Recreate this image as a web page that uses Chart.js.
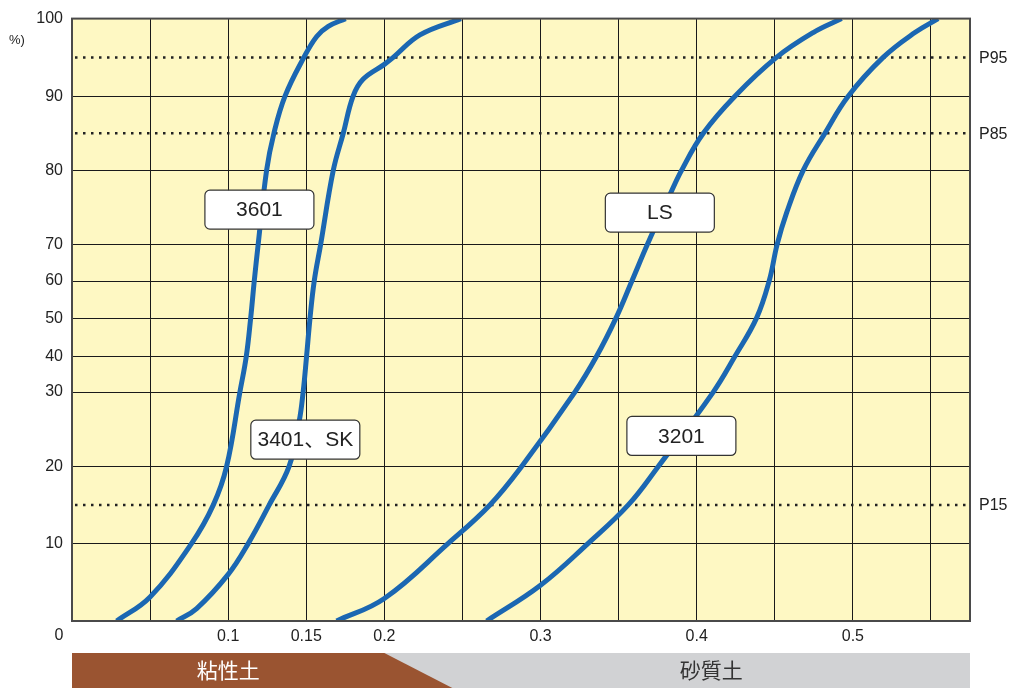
<!DOCTYPE html>
<html>
<head>
<meta charset="utf-8">
<script src="https://cdn.jsdelivr.net/npm/chart.js@4.4.1/dist/chart.umd.min.js"></script>
<style>
  html, body { margin: 0; padding: 0; background: #fff; }
  #wrap { position: relative; width: 1013px; height: 688px; }
</style>
</head>
<body>
<div id="wrap"><canvas id="chart" width="1013" height="688"></canvas></div>
<script>
// --- curve data (particle size vs. passing %) ---
const x3601 = [0.0286, 0.05, 0.0766, 0.0905, 0.099, 0.1075, 0.1116, 0.1144, 0.1167, 0.1192, 0.1246, 0.1293, 0.1364, 0.1485, 0.1567, 0.1641, 0.1752];
const p3601 = [0, 3.1, 10, 15, 20, 30, 40, 50, 60, 70, 80, 85, 90, 95, 97.7, 99, 100];

const x3401 = [0.067, 0.0798, 0.1, 0.1129, 0.1263, 0.139, 0.1455, 0.148, 0.1502, 0.1524, 0.1551, 0.1592, 0.1673, 0.1737, 0.18, 0.1865, 0.2, 0.2057, 0.2228, 0.249];
const p3401 = [0, 1.6, 6, 10, 15, 20, 26.1, 30, 40, 50, 60, 70, 80, 85, 90, 92.2, 94.1, 95, 97.9, 100];

const xLS = [0.1694, 0.2, 0.2409, 0.2676, 0.2879, 0.322, 0.3359, 0.3483, 0.3585, 0.3684, 0.3824, 0.3903, 0.4042, 0.4245, 0.4511, 0.4746, 0.4928];
const pLS = [0, 2.9, 10, 15, 20, 30, 40, 50, 60, 70, 76.5, 80, 85, 90, 95, 98.2, 100];

const x3201 = [0.2655, 0.3, 0.3305, 0.3562, 0.3754, 0.4106, 0.4245, 0.4383, 0.4464, 0.4515, 0.4576, 0.4682, 0.4821, 0.497, 0.5194, 0.5397, 0.5546];
const p3201 = [0, 4.6, 10, 15, 20, 30, 40, 50, 60, 70, 74.3, 80, 85, 90, 95, 98.2, 100];

const curveNames = ['3601', '3401、SK', 'LS', '3201'];
const labelX = [0.12, 0.1494, 0.3764, 0.3902];
const labelPct = [74.7, 23.6, 74.3, 24.1];

// y axis is not linear in %: tick values and where they sit on a 0..16 axis
const pctTicks = [0, 10, 20, 30, 40, 50, 60, 70, 80, 90, 100];
const pctSteps = [0, 2.062, 4.105, 6.08, 7.03, 8.044, 9.03, 10, 11.97, 13.94, 16];

const xTicks = [0, 0.05, 0.1, 0.15, 0.2, 0.25, 0.3, 0.35, 0.4, 0.45, 0.5, 0.55];
const xTickLabels = ['', '', '0.1', '0.15', '0.2', '', '0.3', '', '0.4', '', '0.5', ''];

const pLines = [95, 85, 15];
const pLineLabels = ['P95', 'P85', 'P15'];

const soilNames = ['粘性土', '砂質土'];
const soilSplit = 0.2;

const FONT = "'Liberation Sans', Arial, 'Noto Sans CJK JP', sans-serif";
const BLUE = '#1b67b2';

function toPos(pct) {
  for (let i = 0; i < pctTicks.length - 1; i++) {
    if (pct <= pctTicks[i + 1]) {
      const t = (pct - pctTicks[i]) / (pctTicks[i + 1] - pctTicks[i]);
      return pctSteps[i] + t * (pctSteps[i + 1] - pctSteps[i]);
    }
  }
  return pctSteps[pctSteps.length - 1];
}

function series(xs, ps) {
  return xs.map((x, i) => ({ x: x, y: toPos(ps[i]) }));
}

const decor = {
  id: 'decor',
  beforeDraw(chart) {
    const { ctx, chartArea: a } = chart;
    ctx.save();
    ctx.fillStyle = '#fef8c3';
    ctx.fillRect(a.left, a.top, a.right - a.left, a.bottom - a.top);
    ctx.restore();
  },
  beforeDatasetsDraw(chart) {
    const { ctx, chartArea: a, scales } = chart;
    ctx.save();
    ctx.strokeStyle = '#222';
    ctx.lineWidth = 2.5;
    ctx.setLineDash([2.5, 5.5]);
    pLines.forEach(p => {
      const y = scales.y.getPixelForValue(toPos(p));
      ctx.beginPath(); ctx.moveTo(a.left + 3, y); ctx.lineTo(a.right, y); ctx.stroke();
    });
    ctx.restore();
  },
  afterDatasetsDraw(chart) {
    const { ctx, chartArea: a, scales } = chart;
    ctx.save();
    // frame
    ctx.strokeStyle = '#4a4a4a';
    ctx.lineWidth = 2;
    ctx.strokeRect(a.left, a.top, a.right - a.left, a.bottom - a.top);

    // curve name boxes
    ctx.font = '21px ' + FONT;
    ctx.textAlign = 'center';
    ctx.textBaseline = 'middle';
    curveNames.forEach((name, i) => {
      const cx = scales.x.getPixelForValue(labelX[i]);
      const cy = scales.y.getPixelForValue(toPos(labelPct[i]));
      ctx.beginPath();
      ctx.roundRect(cx - 54.5, cy - 19.5, 109, 39, 5);
      ctx.fillStyle = '#fff'; ctx.fill();
      ctx.lineWidth = 1.2; ctx.strokeStyle = '#333'; ctx.stroke();
      ctx.fillStyle = '#222';
      ctx.fillText(name, cx, cy + 1);
    });

    // P labels on the right
    ctx.font = "16px 'Liberation Sans Narrow', 'Liberation Sans', Arial, sans-serif";
    ctx.textAlign = 'left';
    ctx.fillStyle = '#222';
    pLines.forEach((p, i) => {
      ctx.fillText(pLineLabels[i], a.right + 9, scales.y.getPixelForValue(toPos(p)) + 1);
    });

    // unit and origin
    ctx.font = '13px ' + FONT;
    ctx.fillText('%)', 9, 40);
    ctx.font = '16px ' + FONT;
    ctx.textAlign = 'center';
    ctx.fillText('0', a.left - 13, a.bottom + 15);

    // soil type band
    const top = 653, bot = chart.height;
    const xs = scales.x.getPixelForValue(soilSplit);
    const xb = xs + 68;
    ctx.fillStyle = '#d1d2d4';
    ctx.fillRect(a.left, top, a.right - a.left, bot - top);
    ctx.fillStyle = '#9a5431';
    ctx.beginPath();
    ctx.moveTo(a.left, top); ctx.lineTo(xs, top); ctx.lineTo(xb, bot); ctx.lineTo(a.left, bot);
    ctx.closePath(); ctx.fill();
    ctx.font = '21px ' + FONT;
    ctx.fillStyle = '#fff';
    ctx.fillText(soilNames[0], scales.x.getPixelForValue(0.1), 672);
    ctx.fillStyle = '#333';
    ctx.fillText(soilNames[1], (xb + a.right) / 2, 672);
    ctx.restore();
  }
};

function lineSet(label, xs, ps) {
  return {
    label: label,
    data: series(xs, ps),
    borderColor: BLUE,
    borderWidth: 5,
    pointRadius: 0,
    fill: false,
    tension: 0.4,
    borderCapStyle: 'butt',
    borderJoinStyle: 'round',
    clip: 0
  };
}

new Chart(document.getElementById('chart'), {
  type: 'line',
  data: {
    datasets: [
      lineSet(curveNames[0], x3601, p3601),
      lineSet(curveNames[1], x3401, p3401),
      lineSet(curveNames[2], xLS, pLS),
      lineSet(curveNames[3], x3201, p3201)
    ]
  },
  options: {
    responsive: false,
    devicePixelRatio: 1,
    animation: false,
    layout: { padding: { top: 16, right: 43, left: 0, bottom: 0 } },
    plugins: { legend: { display: false }, tooltip: { enabled: false } },
    scales: {
      x: {
        type: 'linear', min: 0, max: 0.575,
        afterBuildTicks: s => { s.ticks = xTicks.map(v => ({ value: v })); },
        afterFit: s => { s.height = 67; },
        grid: { color: '#1a1a1a', lineWidth: 1, drawTicks: false },
        border: { display: false },
        ticks: {
          autoSkip: false, maxRotation: 0, padding: 6,
          color: '#222', font: { family: FONT, size: 16 },
          callback: (v, i) => xTickLabels[i]
        }
      },
      y: {
        type: 'linear', min: 0, max: 16,
        afterBuildTicks: s => { s.ticks = pctTicks.map(p => ({ value: toPos(p) })); },
        afterFit: s => { s.width = 72; },
        grid: { color: '#1a1a1a', lineWidth: 1, drawTicks: false },
        border: { display: false },
        ticks: {
          padding: 9,
          color: '#222', font: { family: FONT, size: 16 },
          callback: (v, i) => (i === 0 ? '' : String(pctTicks[i]))
        }
      }
    }
  },
  plugins: [decor]
});
</script>
</body>
</html>
